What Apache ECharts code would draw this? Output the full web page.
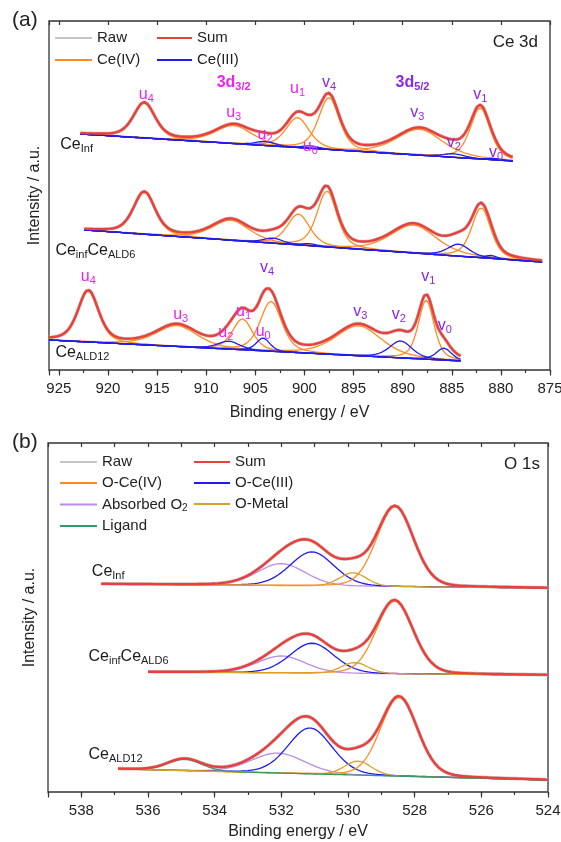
<!DOCTYPE html>
<html>
<head>
<meta charset="utf-8" />
<title>Ce 3d / O 1s XPS</title>
<style>html, body { margin: 0; padding: 0; background: #fff; }</style>
</head>
<body>
<div id="main" style="width:561px;height:842px"></div>
<script src="https://cdn.jsdelivr.net/npm/echarts@6/dist/echarts.min.js"></script>
<script>
// ---- data ----
// baselines: [E start, y start, E end, y end]; peaks: [centre eV, height, FWHM eV]
var ceInfBase = [922.8, 236, 878.8, 209];
var ceInfIV = [[916.3, 35, 2.6], [907.2, 18, 4.5], [900.7, 30, 2.8], [897.5, 52, 2.5], [888.3, 26, 5.5], [882.1, 51, 2.4]];
var ceInfIII = [[904.0, 4, 2.4], [899.4, 2.5, 2.0], [884.8, 3.5, 2.6], [880.7, 1.5, 1.5]];

var ceMixBase = [922.4, 140, 875.8, 108];
var ceMixIV = [[916.3, 42, 2.6], [907.5, 20, 4.5], [900.6, 31, 2.7], [897.7, 56, 2.4], [888.9, 28, 5.5], [882.0, 50, 2.3]];
var ceMixIII = [[903.2, 5, 2.4], [899.5, 2, 2.0], [884.3, 12, 2.6], [881.0, 3, 1.4]];

var ceAldBase = [926.0, 30, 884.1, 9];
var ceAldIV = [[922.0, 51, 2.5], [913.0, 21, 5.0], [906.3, 31, 2.4], [903.4, 50, 2.6], [894.5, 30, 5.5], [887.6, 59, 1.9]];
var ceAldIII = [[907.7, 8, 2.6], [904.2, 13, 1.6], [890.2, 17, 2.7], [885.8, 12, 1.8]];

var oInfBase = [537.4, 208, 524.0, 204];
var oInfIV = [[528.59, 80, 1.3]];
var oInfIII = [[531.08, 34, 1.55]];
var oInfAbs = [[532.0, 22, 1.7]];
var oInfMetal = [[529.85, 13.5, 0.95]];

var oMixBase = [536.0, 120, 524.0, 117];
var oMixIV = [[528.6, 73, 1.3]];
var oMixIII = [[531.08, 30, 1.55]];
var oMixAbs = [[532.0, 17, 1.7]];
var oMixMetal = [[529.8, 11, 0.95]];

var oAldBase = [536.9, 23, 524.0, 12];
var oAldIV = [[528.47, 79, 1.3]];
var oAldIII = [[531.14, 46, 1.55]];
var oAldAbs = [[532.1, 20, 1.9]];
var oAldMetal = [[529.7, 14, 0.95]];
var oAldLigand = [[534.9, 11.5, 1.2]];

// peak tags: [E, y, letter, subscript]
var ceTags = [
  [916.1, 275, 'u', '4'], [907.2, 287, '3d', '3/2'], [907.2, 257, 'u', '3'], [904.0, 235, 'u', '2'],
  [900.7, 281, 'u', '1'], [897.5, 287, 'v', '4'], [899.4, 223, 'u', '0'], [889.0, 287, '3d', '5/2'],
  [888.5, 257, 'v', '3'], [884.8, 227, 'v', '2'], [882.1, 275, 'v', '1'], [880.5, 217, 'v', '0'],
  [922.0, 93, 'u', '4'], [912.6, 55, 'u', '3'], [908.0, 37, 'u', '2'], [906.2, 58, 'u', '1'],
  [904.2, 38, 'u', '0'], [903.8, 102, 'v', '4'], [894.3, 58, 'v', '3'], [890.4, 55, 'v', '2'],
  [887.4, 93, 'v', '1'], [885.7, 44, 'v', '0']
];
// sample names: [E, y, rich text]
var ceNames = [[924.9, 225, '{n|Ce}{s|Inf}'], [925.4, 119, '{n|Ce}{s|inf}{n|Ce}{s|ALD6}'], [925.4, 17, '{n|Ce}{s|ALD12}']];
var oNames = [[537.7, 220, '{n|Ce}{s|Inf}'], [537.8, 135, '{n|Ce}{s|inf}{n|Ce}{s|ALD6}'], [537.8, 37, '{n|Ce}{s|ALD12}']];

var FONT = '"Liberation Sans", Arial, Helvetica, sans-serif';
var C_RAW = '#c6c6c6', C_SUM = '#ea3f3c', C_IV = '#ff8a22', C_III = '#1d1df0';
var C_ABS = '#ba8ce8', C_MET = '#d6a22a', C_LIG = '#2f9c6e';
var MAGENTA = '#f020f0', PURPLE = '#8a26ee';

function peak(x, p, eta) {
  var t = (x - p[0]) / p[2];
  return p[1] * (eta / (1 + 4 * t * t) + (1 - eta) * Math.exp(-4 * Math.LN2 * t * t));
}
function baseAt(b, x) {
  return b[1] + (b[3] - b[1]) * (x - b[0]) / (b[2] - b[0]);
}
function energies(b) {
  var n = Math.round(Math.abs(b[0] - b[2]) / 0.1), out = [];
  for (var i = 0; i <= n; i++) out.push(b[0] + (b[2] - b[0]) * i / n);
  return out;
}
function line(name, color, width, data, xi, yi, z) {
  return {
    type: 'line', name: name, data: data, xAxisIndex: xi, yAxisIndex: yi,
    showSymbol: false, symbol: 'none', silent: true, z: z, animation: false,
    itemStyle: { color: color }, lineStyle: { color: color, width: width }
  };
}

var series = [];
function addSpectrum(xi, yi, base, groups, eta) {
  var xs = energies(base);
  var sum = xs.map(function (x) { return baseAt(base, x); });
  var comps = [];
  groups.forEach(function (g) {
    g[2].forEach(function (p) {
      var d = xs.map(function (x, i) {
        var v = peak(x, p, eta);
        sum[i] += v;
        return [x, baseAt(base, x) + v];
      });
      comps.push(line(g[0], g[1], 1.3, d, xi, yi, 3));
    });
  });
  var sumData = xs.map(function (x, i) { return [x, sum[i]]; });
  series.push(line('Raw', C_RAW, 3.6, sumData, xi, yi, 2));
  comps.forEach(function (s) { series.push(s); });
  series.push(line('Sum', C_SUM, 2.4, sumData, xi, yi, 4));
}

addSpectrum(0, 0, ceInfBase, [['Ce(IV)', C_IV, ceInfIV], ['Ce(III)', C_III, ceInfIII]], 0.45);
addSpectrum(0, 0, ceMixBase, [['Ce(IV)', C_IV, ceMixIV], ['Ce(III)', C_III, ceMixIII]], 0.45);
addSpectrum(0, 0, ceAldBase, [['Ce(IV)', C_IV, ceAldIV], ['Ce(III)', C_III, ceAldIII]], 0.45);

function oGroups(abs, iii, iv, metal, lig) {
  var g = [['Absorbed O2', C_ABS, abs], ['O-Ce(III)', C_III, iii], ['O-Ce(IV)', C_IV, iv], ['O-Metal', C_MET, metal]];
  if (lig) g.push(['Ligand', C_LIG, lig]);
  return g;
}
addSpectrum(3, 1, oInfBase, oGroups(oInfAbs, oInfIII, oInfIV, oInfMetal), 0.15);
addSpectrum(3, 1, oMixBase, oGroups(oMixAbs, oMixIII, oMixIV, oMixMetal), 0.15);
addSpectrum(3, 1, oAldBase, oGroups(oAldAbs, oAldIII, oAldIV, oAldMetal, oAldLigand), 0.15);

function tok(color, size, bold, sub) {
  var t = { color: color, fontSize: size, fontFamily: FONT, lineHeight: 18, textBorderWidth: 0, textShadowBlur: 0 };
  if (bold) t.fontWeight = 'bold';
  if (sub) t.padding = [7, 0, 0, 0];
  return t;
}
var tagRich = {
  u: tok(MAGENTA, 16, false, false), us: tok(MAGENTA, 11, false, true),
  v: tok(PURPLE, 16, false, false), vs: tok(PURPLE, 11, false, true),
  ub: tok(MAGENTA, 16, true, false), ubs: tok(MAGENTA, 11, true, true),
  vb: tok(PURPLE, 16, true, false), vbs: tok(PURPLE, 11, true, true)
};
var nameRich = { n: tok('#1a1a1a', 16, false, false), s: tok('#1a1a1a', 11, false, true) };
var clear = { color: 'rgba(0,0,0,0)' };
var labelBase = { show: true, fontSize: 16, fontFamily: FONT, textBorderWidth: 0, textShadowBlur: 0, opacity: 1 };

series.push({
  type: 'scatter', xAxisIndex: 0, yAxisIndex: 0, symbolSize: 1, silent: true, z: 6, animation: false,
  itemStyle: clear,
  data: ceTags.map(function (t) {
    var k = (t[2] === 'u' || t[3] === '3/2') ? 'u' : 'v';
    if (t[2] === '3d') k += 'b';
    return { value: [t[0], t[1]], label: { formatter: '{' + k + '|' + t[2] + '}{' + k + 's|' + t[3] + '}' } };
  }),
  label: Object.assign({ position: 'inside', rich: tagRich }, labelBase)
});
[[0, 0, ceNames], [3, 1, oNames]].forEach(function (s) {
  series.push({
    type: 'scatter', xAxisIndex: s[0], yAxisIndex: s[1], symbolSize: 1, silent: true, z: 6, animation: false,
    itemStyle: clear,
    data: s[2].map(function (t) { return { value: [t[0], t[1]], label: { formatter: t[2] } }; }),
    label: Object.assign({ position: 'right', distance: 0, rich: nameRich }, labelBase)
  });
});

var axisText = { color: '#222', fontSize: 15, fontFamily: FONT };
function xAx(grid, min, max, iv, opt) {
  var a = {
    type: 'value', gridIndex: grid, min: min, max: max, interval: iv, inverse: true,
    position: 'bottom', splitLine: { show: false }, axisLine: { show: false },
    axisTick: { show: true, inside: false, length: 3, lineStyle: { color: '#333', width: 1.2 } },
    axisLabel: { show: false }
  };
  return Object.assign(a, opt);
}
function labelEvery(step) {
  return { show: true, margin: 11, color: '#222', fontSize: 15, fontFamily: FONT,
    formatter: function (v) { return Math.abs(v % step) < 1e-6 ? String(v) : ''; } };
}
var xName = { name: 'Binding energy / eV', nameLocation: 'middle', nameTextStyle: { color: '#222', fontSize: 16, fontFamily: FONT } };
function legendCol(left, top, width, gap, names, extra) {
  return Object.assign({
    orient: 'vertical', left: left, top: top, padding: 0, itemWidth: width, itemHeight: 2, itemGap: gap,
    icon: 'rect', selectedMode: false, textStyle: Object.assign({ lineHeight: 16 }, axisText), data: names
  }, extra || {});
}

var option = {
  backgroundColor: '#fff',
  animation: false,
  title: [
    { text: '(a)', left: 12, top: 10, padding: 0, textStyle: { fontSize: 21, fontWeight: 'normal', color: '#222', fontFamily: FONT } },
    { text: 'Ce 3d', right: 23, top: 34, padding: 0, textStyle: { fontSize: 17, fontWeight: 'normal', color: '#222', fontFamily: FONT } },
    { text: '(b)', left: 12, top: 432, padding: 0, textStyle: { fontSize: 21, fontWeight: 'normal', color: '#222', fontFamily: FONT } },
    { text: 'O 1s', right: 21, top: 456, padding: 0, textStyle: { fontSize: 17, fontWeight: 'normal', color: '#222', fontFamily: FONT } }
  ],
  legend: [
    legendCol(55, 30, 37, 6, ['Raw', 'Ce(IV)']),
    legendCol(157, 30, 35, 6, ['Sum', 'Ce(III)']),
    legendCol(60, 454, 37, 5, ['Raw', 'O-Ce(IV)', 'Absorbed O2', 'Ligand'], {
      textStyle: Object.assign({ lineHeight: 16, rich: {
        a: { color: '#222', fontSize: 15, fontFamily: FONT, lineHeight: 16 },
        b: { color: '#222', fontSize: 10, fontFamily: FONT, padding: [7, 0, 0, 0], lineHeight: 16 } } }, axisText),
      formatter: function (n) { return n === 'Absorbed O2' ? '{a|Absorbed O}{b|2}' : n; }
    }),
    legendCol(194, 454, 36, 5, ['Sum', 'O-Ce(III)', 'O-Metal'])
  ],
  grid: [
    { left: 49, top: 21, width: 501, height: 349, show: true, borderColor: '#333', borderWidth: 1.3, outerBoundsMode: 'none' },
    { left: 48, top: 443, width: 500, height: 349, show: true, borderColor: '#333', borderWidth: 1.3, outerBoundsMode: 'none' }
  ],
  xAxis: [
    xAx(0, 875, 926, 2.5, Object.assign({ axisLabel: labelEvery(5), nameGap: 35 }, xName)),
    xAx(0, 875, 926, 5, { axisTick: { show: true, length: 5.5, lineStyle: { color: '#333', width: 1.2 } } }),
    xAx(0, 875, 926, 5, { position: 'top', axisTick: { show: true, inside: true, length: 4, lineStyle: { color: '#333', width: 1.2 } } }),
    xAx(1, 524, 539, 1, Object.assign({ axisLabel: labelEvery(2), nameGap: 32 }, xName)),
    xAx(1, 524, 539, 2, { axisTick: { show: true, length: 5.5, lineStyle: { color: '#333', width: 1.2 } } }),
    xAx(1, 524, 539, 1, { position: 'top', axisTick: { show: true, inside: true, length: 4, lineStyle: { color: '#333', width: 1.2 } } })
  ],
  yAxis: [0, 1].map(function (g) {
    return {
      type: 'value', gridIndex: g, min: 0, max: 349, show: true,
      axisLine: { show: false }, axisTick: { show: false }, axisLabel: { show: false }, splitLine: { show: false },
      name: 'Intensity / a.u.', nameLocation: 'middle', nameGap: g === 0 ? 6 : 10,
      nameTextStyle: { color: '#222', fontSize: 16, fontFamily: FONT }
    };
  }),
  series: series
};

var myChart = echarts.init(document.getElementById('main'));
myChart.setOption(option);
</script>
</body>
</html>
